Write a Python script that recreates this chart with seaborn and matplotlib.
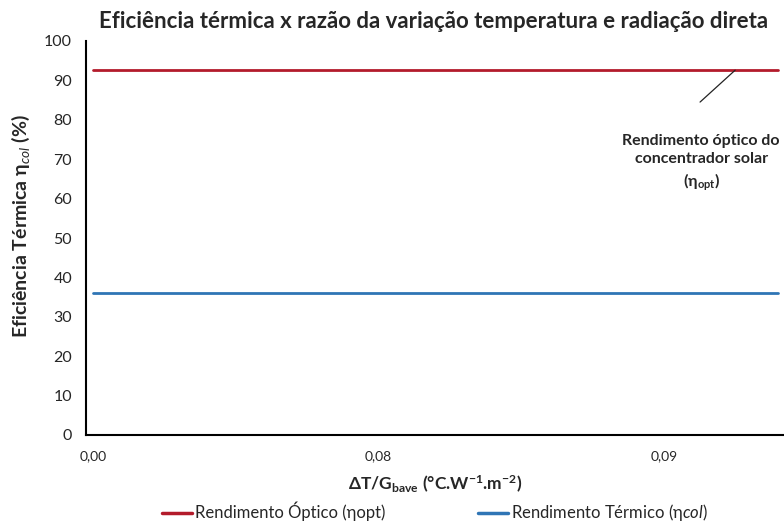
import matplotlib
matplotlib.use("Agg")
import matplotlib.pyplot as plt
import seaborn as sns
import pandas as pd

# Category positions along the ΔT/G axis and the labels shown on it
x_index = [0, 1, 2, 3, 4, 5, 6, 7, 8, 9, 10, 11, 12,
           13, 14, 15, 16, 17, 18, 19, 20, 21, 22, 23, 24]
x_tick_index = [0, 10, 20]
x_tick_labels = ["0,00", "0,08", "0,09"]

# Efficiency series (%)
eta_opt = [92.6, 92.6, 92.6, 92.6, 92.6, 92.6, 92.6, 92.6, 92.6, 92.6,
           92.6, 92.6, 92.6, 92.6, 92.6, 92.6, 92.6, 92.6, 92.6, 92.6,
           92.6, 92.6, 92.6, 92.6, 92.6]
eta_col = [36.0, 36.0, 36.0, 36.0, 36.0, 36.0, 36.0, 36.0, 36.0, 36.0,
           36.0, 36.0, 36.0, 36.0, 36.0, 36.0, 36.0, 36.0, 36.0, 36.0,
           36.0, 36.0, 36.0, 36.0, 36.0]

series_names = [r"Rendimento Óptico (ηopt)", r"Rendimento Térmico (η$\mathit{col}$)"]
y_ticks = [0, 10, 20, 30, 40, 50, 60, 70, 80, 90, 100]

df = pd.DataFrame({
    "x": x_index + x_index,
    "eta": eta_opt + eta_col,
    "serie": [series_names[0]] * len(x_index) + [series_names[1]] * len(x_index),
})

sns.set_theme(style="white")
plt.rcParams["font.family"] = ["Lato", "DejaVu Sans"]
plt.rcParams["mathtext.fontset"] = "custom"
plt.rcParams["mathtext.rm"] = "Lato"
plt.rcParams["mathtext.it"] = "Lato:italic"
plt.rcParams["mathtext.bf"] = "Lato:bold"

fig = plt.figure(figsize=(7.84, 5.24), dpi=100)
ax = fig.add_axes([86 / 784, 1 - 435 / 524, 1 - 86 / 784, (435 - 41) / 524])

palette = {series_names[0]: "#B31B2B", series_names[1]: "#2F75B5"}
sns.lineplot(data=df, x="x", y="eta", hue="serie", palette=palette,
             linewidth=2.0, ax=ax, legend=True)

ax.set_xlim(-0.245, 24.2)
ax.set_ylim(0, 100)
ax.set_yticks(y_ticks)
ax.set_yticklabels([str(v) for v in y_ticks], fontsize=11.5)
ax.set_xticks(x_tick_index)
ax.set_xticklabels(x_tick_labels, fontsize=10)
ax.set_xticks([2.28, 7.25, 12.26, 17.27, 22.24], minor=True)
ax.tick_params(axis="x", which="major", length=0, pad=11)
ax.tick_params(axis="x", which="minor", length=4, width=1.3, color="black", direction="out")
ax.tick_params(axis="y", which="major", length=4, width=1.0, color="black", direction="out", pad=6)

for side in ["top", "right"]:
    ax.spines[side].set_visible(False)
for side in ["left", "bottom"]:
    ax.spines[side].set_color("black")
    ax.spines[side].set_linewidth(1.5)

ax.set_xlabel(r"$\mathbf{\Delta T/G_{bave}}$ (°C.W$^{\mathbf{-1}}$.m$^{\mathbf{-2}}$)",
              fontsize=12.5, fontweight="bold", labelpad=8)
ax.set_ylabel(r"Eficiência Térmica η$_{\mathit{col}}$ (%)",
              fontsize=14, fontweight="bold")
ax.yaxis.set_label_coords(-0.078, 0.53)

fig.text(0.553, 1 - 22 / 524, "Eficiência térmica x razão da variação temperatura e radiação direta",
         ha="center", va="center", fontsize=16, fontweight="bold")

# Leader line and note for the optical efficiency curve
ax.annotate("", xy=(22.49, 92.6), xytext=(21.26, 84.5),
            arrowprops=dict(arrowstyle="-", color="#222222", lw=0.9,
                            shrinkA=0, shrinkB=0))
ax.text(21.3, 68.9, "Rendimento óptico do\nconcentrador solar\n(η$_{\\mathbf{opt}}$)",
        ha="center", va="center", fontsize=11.5, fontweight="bold", linespacing=1.35)

leg = ax.legend(loc="center", bbox_to_anchor=(0.5, -0.197), ncol=2, frameon=False,
                fontsize=12, handlelength=1.8, handletextpad=0.15, columnspacing=5.6)
for line in leg.get_lines():
    line.set_linewidth(2.5)

fig.savefig("out.png", dpi=100)
